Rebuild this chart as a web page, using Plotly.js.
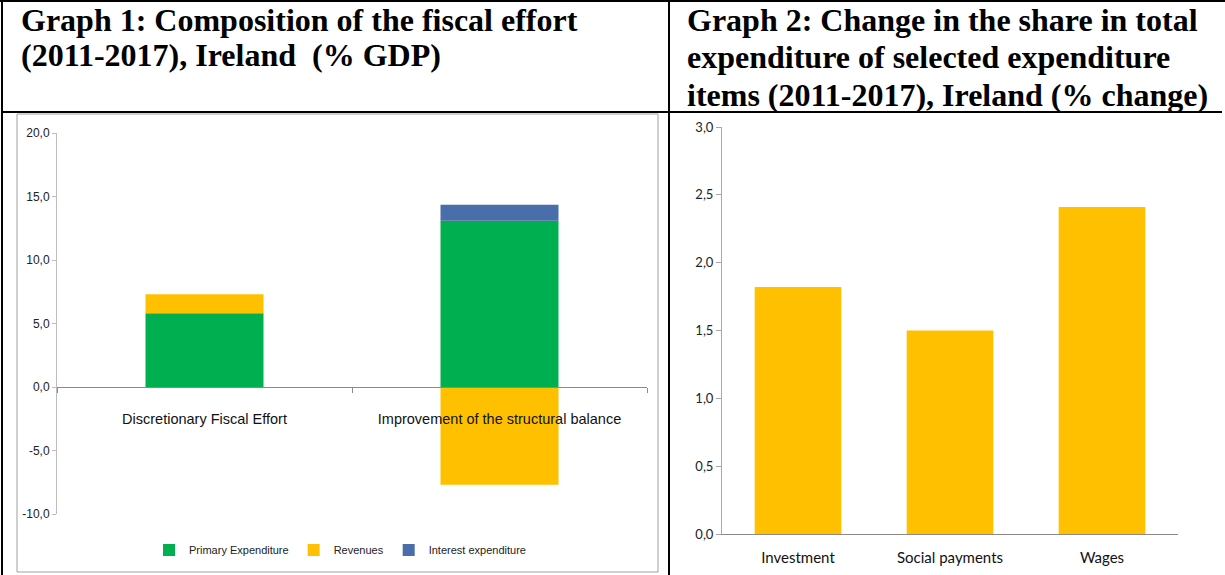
<!DOCTYPE html>
<html>
<head>
<meta charset="utf-8">
<script src="https://cdn.plot.ly/plotly-3.0.1.min.js"></script>
<style>html,body{margin:0;padding:0;background:#fff;}#chart{width:1225px;height:575px;}</style>
</head>
<body>
<div id="chart"></div>
<script>
// Graph 1 data
const effortCategories = ["Discretionary Fiscal Effort", "Improvement of the structural balance"];
const primaryExpenditure = [5.8, 13.1];
const revenues = [1.5, -7.7];
const interestExpenditure = [0, 1.25];
const seriesNames = ["Primary Expenditure", "Revenues", "Interest expenditure"];
const effortTickValues = [-10, -5, 0, 5, 10, 15, 20];
const effortTickLabels = ["-10,0", "-5,0", "0,0", "5,0", "10,0", "15,0", "20,0"];

// Graph 2 data
const expenditureItems = ["Investment", "Social payments", "Wages"];
const shareChange = [1.82, 1.5, 2.41];

const title1Lines = ["Graph 1: Composition of the fiscal effort", "(2011-2017), Ireland  (% GDP)"];
const title2Lines = ["Graph 2: Change in the share in total", "expenditure of selected expenditure", "items (2011-2017), Ireland (% change)"];

const W = 1225, H = 575;
const px = v => v / W;
const py = v => 1 - v / H;

const narrow = "Liberation Sans Narrow, Arial Narrow, Liberation Sans, sans-serif";
const green = "#00B050", yellow = "#FFC000", blue = "#4A6EA9";

const traces = [
  {type: "bar", x: effortCategories, y: primaryExpenditure, name: seriesNames[0], marker: {color: green}, width: 0.4, xaxis: "x", yaxis: "y"},
  {type: "bar", x: effortCategories, y: revenues, name: seriesNames[1], marker: {color: yellow}, width: 0.4, xaxis: "x", yaxis: "y"},
  {type: "bar", x: effortCategories, y: interestExpenditure, name: seriesNames[2], marker: {color: blue}, width: 0.4, xaxis: "x", yaxis: "y"},
  {type: "bar", x: expenditureItems, y: shareChange, name: "Change", marker: {color: yellow}, width: 0.57, xaxis: "x2", yaxis: "y2", showlegend: false}
];

const yDom1 = [py(514), py(133)];
const zeroPos = yDom1[0] + (yDom1[1] - yDom1[0]) / 3;

const titleFont = {family: "Liberation Serif, Times New Roman, serif", size: 32, color: "#000"};
const lineY = [20, 57, 95];
const titleAnn = [];
title1Lines.forEach((t, i) => titleAnn.push({xref: "paper", yref: "paper", x: px(19), y: py(i === 0 ? 20 : 55),
  xanchor: "left", yanchor: "middle", showarrow: false, text: "<b>" + t + "</b>", font: titleFont}));
title2Lines.forEach((t, i) => titleAnn.push({xref: "paper", yref: "paper", x: px(685), y: py(lineY[i]),
  xanchor: "left", yanchor: "middle", showarrow: false, text: "<b>" + t + "</b>", font: titleFont}));

const layout = {
  width: W, height: H,
  margin: {l: 0, r: 0, t: 0, b: 0},
  paper_bgcolor: "#fff", plot_bgcolor: "rgba(0,0,0,0)",
  separators: ",.",
  barmode: "relative",
  showlegend: true,
  legend: {orientation: "h", x: px(340), xanchor: "center", y: py(550), yanchor: "middle",
           font: {family: narrow, size: 11, color: "#222"}, itemwidth: 30, traceorder: "normal"},
  xaxis: {domain: [px(57), px(647)], type: "category", anchor: "free", position: zeroPos,
          showline: true, linecolor: "#8a8a8a", linewidth: 1, ticks: "outside", tickson: "boundaries",
          ticklen: 5, tickcolor: "#8a8a8a", ticklabelstandoff: 19, showgrid: false, zeroline: false,
          tickfont: {family: narrow, size: 14.5, color: "#111"}, fixedrange: true},
  yaxis: {domain: yDom1, range: [-10, 20], tickmode: "array", tickvals: effortTickValues, ticktext: effortTickLabels, anchor: "x",
          showline: true, linecolor: "#bdbdbd", ticks: "outside", ticklen: 4, tickcolor: "#bdbdbd",
          showgrid: false, zeroline: false, tickfont: {family: narrow, size: 12, color: "#222"}},
  xaxis2: {domain: [px(722), px(1178)], type: "category", anchor: "y2",
           showline: true, linecolor: "#8a8a8a", ticks: "", showgrid: false, zeroline: false,
           ticklabelstandoff: 10,
           tickfont: {family: "Lato, sans-serif", size: 15, color: "#111"}},
  yaxis2: {domain: [py(534), py(127)], range: [0, 3], dtick: 0.5, tickformat: ".1f", anchor: "x2",
           showline: true, linecolor: "#a8a8a8", ticks: "outside", ticklen: 5, tickcolor: "#a8a8a8",
           showgrid: false, zeroline: false, tickfont: {family: "Lato, sans-serif", size: 13, color: "#222"}},
  shapes: [
    {type: "rect", xref: "paper", yref: "paper", x0: px(17), x1: px(658), y0: py(572), y1: py(114), line: {color: "#a0a0a0", width: 1}},
    {type: "line", xref: "paper", yref: "paper", x0: 0, x1: 1, y0: py(1), y1: py(1), line: {color: "#000", width: 2}},
    {type: "line", xref: "paper", yref: "paper", x0: px(2), x1: px(1222), y0: py(112), y1: py(112), line: {color: "#000", width: 2}},
    {type: "line", xref: "paper", yref: "paper", x0: px(2), x1: px(2), y0: 0, y1: 1, line: {color: "#000", width: 2}},
    {type: "line", xref: "paper", yref: "paper", x0: px(669), x1: px(669), y0: 0, y1: 1, line: {color: "#000", width: 2}}
  ],
  annotations: titleAnn
};

Plotly.newPlot("chart", traces, layout, {displayModeBar: false, staticPlot: true});
</script>
</body>
</html>
